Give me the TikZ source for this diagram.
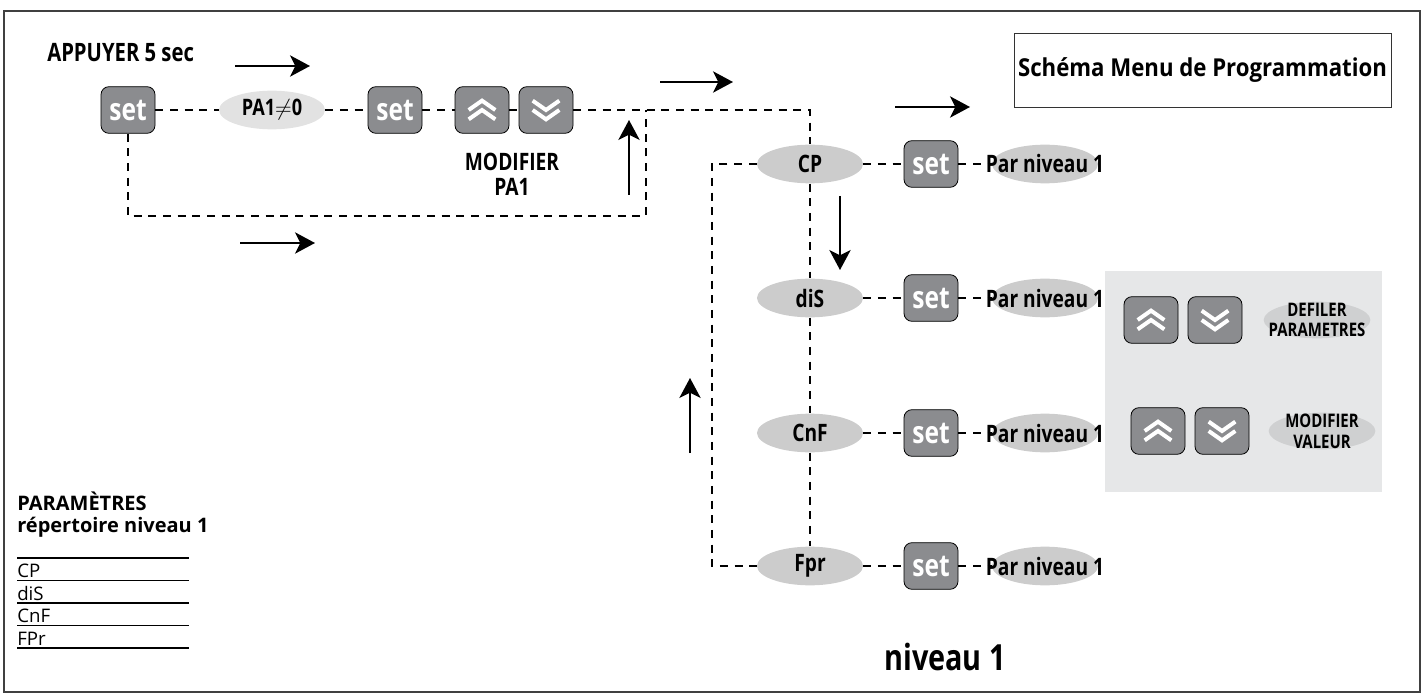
\documentclass[tikz,border=0pt]{standalone}
\usepackage{fontspec}
\setmainfont{Open Sans}
\newfontfamily\narrowfont{Open Sans}[FakeStretch=0.8]
\newfontfamily\titlefont{Open Sans}[FakeStretch=0.9]
\usetikzlibrary{shapes.geometric,arrows.meta}
\definecolor{KeyGray}{RGB}{139,140,143}
\definecolor{ParamGray}{RGB}{204,204,204}
\definecolor{PassGray}{RGB}{226,226,226}
\definecolor{PanelGray}{RGB}{230,231,232}
\definecolor{HintGray}{RGB}{207,208,209}

% white double chevrons drawn inside the arrow keys
\newcommand{\chev}[3]{\draw[white,line width=3pt,sharp corners,line join=miter] ([shift={(-10pt,#1)}]path picture bounding box.center) -- ([shift={(0pt,#2)}]path picture bounding box.center) -- ([shift={(10pt,#1)}]path picture bounding box.center);}
\newcommand{\upchev}{\chev{0pt}{7pt}{}\chev{-7pt}{0pt}{}}
\newcommand{\downchev}{\chev{0pt}{-7pt}{}\chev{7pt}{0pt}{}}

\begin{document}
\begin{tikzpicture}[x=0.75pt,y=0.75pt,yscale=-1,xscale=1,
  setkey/.style={draw=black,line width=0.6pt,fill=KeyGray,rounded corners=6pt,minimum width=40.5pt,minimum height=35pt,inner sep=0pt,text=white,font=\narrowfont\bfseries\fontsize{23}{24}\selectfont},
  upkey/.style={setkey,path picture={\upchev}},
  downkey/.style={setkey,path picture={\downchev}},
  parambox/.style={ellipse,fill=ParamGray,minimum width=79.5pt,minimum height=29pt,inner sep=0pt,font=\narrowfont\bfseries\fontsize{18}{20}\selectfont},
  passbox/.style={parambox,fill=PassGray,font=\narrowfont\bfseries\fontsize{17}{20}\selectfont},
  hintbox/.style={parambox,fill=HintGray,minimum width=80pt,minimum height=27.5pt},
  boldlabel/.style={inner sep=0.75pt,font=\narrowfont\bfseries\fontsize{18}{19}\selectfont,align=center},
  hintlabel/.style={inner sep=0pt,font=\narrowfont\bfseries\fontsize{14}{15.5}\selectfont,align=center},
  link/.style={dash pattern={on 6pt off 5pt},line width=1.4pt},
  flow/.style={line width=1.5pt,-{Stealth[length=15pt,width=16pt,inset=4pt]}}]
\useasboundingbox (0,0) rectangle (1424,695);

%Frame
\draw [line width=1.1pt,color=black!75] (4,11) rectangle (1420,692);

%Panel
\fill [PanelGray] (1105,271) rectangle (1382,492);

% Text Node
\node [anchor=west,boldlabel,font=\narrowfont\bfseries\fontsize{19}{20}\selectfont] (press) at (46,53) {APPUYER 5 sec};
% Text Node
\node [draw=black!80,line width=0.7pt,minimum width=282.75pt,minimum height=55.5pt,inner sep=0pt,font=\titlefont\bfseries\fontsize{18.5}{22}\selectfont] (title) at (1202.5,70) {Schéma Menu de Programmation};

%Keys of the password line
\node [setkey] (set1) at (128,110) {set};
\node [passbox] (pass) at (272,110) {PA1$\neq$0};
\node [setkey] (set2) at (395,110) {set};
\node [upkey] (up1) at (482,110) {};
\node [downkey] (down1) at (546,110) {};
% Text Node
\node [boldlabel,font=\narrowfont\bfseries\fontsize{18}{19}\selectfont] (modpass) at (512,174) {MODIFIER\\PA1};

%Parameters of niveau 1
\node [parambox] (cp) at (810,164) {CP};
\node [parambox] (dis) at (810,298) {diS};
\node [parambox] (cnf) at (810,433) {CnF};
\node [parambox] (fpr) at (810,566) {Fpr};
\foreach \p/\y in {cp/164,dis/298,cnf/433,fpr/566}{
  \node [setkey] (set\p) at (931,\y) {set};
  \node [parambox,label={[boldlabel]center:Par niveau 1}] (par\p) at (1045,\y) {};
}

%Help panel
\node [upkey] (up2) at (1151,320) {};
\node [downkey] (down2) at (1215,320) {};
\node [hintbox,label={[hintlabel]center:DEFILER\\PARAMETRES}] (scroll) at (1317,320) {};
\node [upkey] (up3) at (1158,431) {};
\node [downkey] (down3) at (1222,431) {};
\node [hintbox,label={[hintlabel]center:MODIFIER\\VALEUR}] (value) at (1322,431) {};

%Dashed links
\coordinate (loopa) at (128,216);
\coordinate (loopb) at (646,216);
\coordinate (loopc) at (646,110);
\coordinate (topturn) at (810,110);
\coordinate (backa) at (712,164);
\coordinate (backb) at (712,566);
\draw [link] (set1) -- (pass);
\draw [link] (pass) -- (set2);
\draw [link] (set2) -- (up1);
\draw [link] (up1) -- (down1);
\draw [link] (down1) -- (topturn) -- (cp);
\draw [link] (set1) -- (loopa) -- (loopb) -- (loopc);
\draw [link] (cp) -- (backa) -- (backb) -- (fpr);
\draw [link] (cp) -- (dis);
\draw [link] (dis) -- (cnf);
\draw [link] (cnf) -- (fpr);
\foreach \p in {cp,dis,cnf,fpr}{
  \draw [link] (\p) -- (set\p);
  \draw [link] (set\p) -- (par\p.west);
}

%Arrows
\draw [flow] (235,66) -- (310,66);
\draw [flow] (240,243) -- (315,243);
\draw [flow] (660,82) -- (733,82);
\draw [flow] (895,107) -- (970,107);
\draw [flow] (629,195) -- (629,120);
\draw [flow] (840,196) -- (840,270);
\draw [flow] (690,453) -- (690,378);

%Parameter list
% Text Node
\node [anchor=base west,inner sep=0pt,font=\bfseries\fontsize{15}{16}\selectfont] (listhead) at (17,510) {PARAMÈTRES};
% Text Node
\node [anchor=base west,inner sep=0pt,font=\bfseries\fontsize{15}{16}\selectfont] (listsub) at (17,532) {répertoire niveau 1};
\foreach \y in {558,580.5,603,625.5,648}{
  \draw [line width=0.9pt] (17,\y) -- (189,\y);
}
\foreach \t [count=\i] in {CP,diS,CnF,FPr}{
  \node [anchor=base west,inner sep=0pt,font=\fontsize{14}{15}\selectfont] (row\i) at (17,555+22.5*\i) {\t};
}

% Text Node
\node [font=\narrowfont\bfseries\fontsize{27}{30}\selectfont] (level) at (945,657) {niveau 1};

\end{tikzpicture}
\end{document}
